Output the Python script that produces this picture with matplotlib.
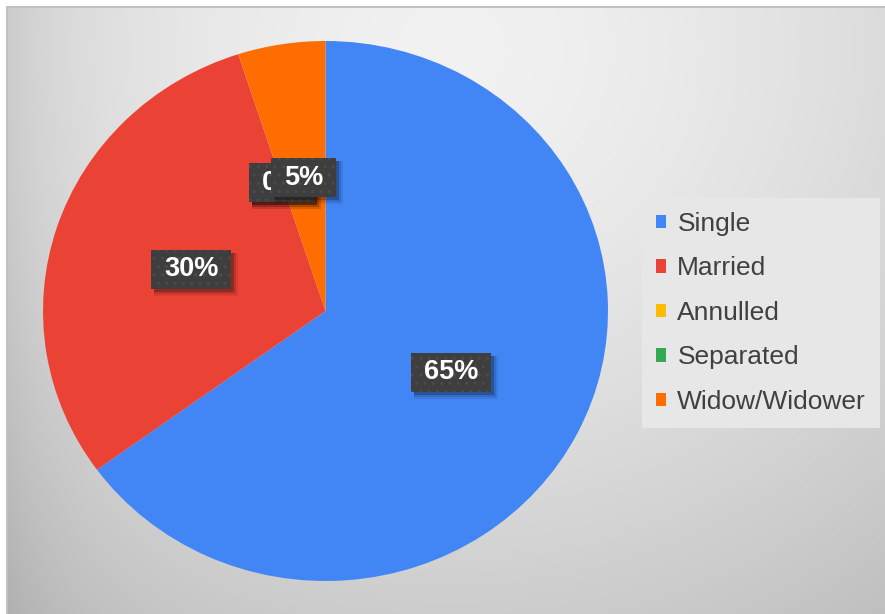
import numpy as np
import matplotlib
matplotlib.use("Agg")
import matplotlib.pyplot as plt
from matplotlib.patches import Patch, Rectangle
from matplotlib.path import Path
from matplotlib.transforms import IdentityTransform

# Marital status breakdown (percent of respondents)
categories = ["Single", "Married", "Annulled", "Separated", "Widow/Widower"]
values = [65, 30, 0, 0, 5]
colors = ["#4285F4", "#EA4335", "#FBBC04", "#34A853", "#FF6D01"]

W, H = 885, 614
DPI = 100
plt.rcParams["font.family"] = ["Liberation Sans", "DejaVu Sans"]

fig = plt.figure(figsize=(W / DPI, H / DPI), dpi=DPI)

# ---- chart-area background: soft radial gray gradient with thin frame ----
bg = fig.add_axes([0, 0, 1, 1], zorder=-10)
yy, xx = np.mgrid[0:H, 0:W].astype(float)
d = np.sqrt(((xx - 450) / 700.0) ** 2 + ((yy - 50) / 650.0) ** 2)
v = 242 - 46 * np.minimum(d, 1.1) ** 1.5
v -= 15 * np.exp(-(xx - 7) / 60.0)
img = np.repeat((v / 255.0)[:, :, None], 3, axis=2)
img[:6, :, :] = 1.0
img[:, :6, :] = 1.0
img[6:8, 6:, :] = 0.76
img[6:, 6:8, :] = 0.76
bg.imshow(np.clip(img, 0, 1), extent=(0, W, H, 0), aspect="auto", interpolation="bilinear")
bg.set_xlim(0, W)
bg.set_ylim(H, 0)
bg.axis("off")


def label_box(x0, y0, width, height, mutation_size):
    """Rectangle with more horizontal than vertical padding."""
    px, py = 0.47 * mutation_size, 0.25 * mutation_size
    x1, y1 = x0 + width + px, y0 + height + py
    x0, y0 = x0 - px, y0 - py
    return Path([(x0, y0), (x1, y0), (x1, y1), (x0, y1), (x0, y0)], closed=True)


# ---- pie ----
left, right, top, bottom = 43, 608, 41, 581
ax = fig.add_axes([left / W, 1 - bottom / H, (right - left) / W, (bottom - top) / H])
wedges, texts, autotexts = ax.pie(
    values,
    colors=colors,
    startangle=90,
    counterclock=False,
    radius=1.0,
    pctdistance=0.5,
    autopct=lambda p: f"{p:.0f}%",
    wedgeprops=dict(linewidth=0, antialiased=True),
    textprops=dict(color="white", fontsize=19.5, fontweight="bold"),
)
ax.set_aspect("auto")
ax.set_xlim(-1, 1)
ax.set_ylim(-1, 1)

for i, t in enumerate(autotexts):
    t.set_bbox(dict(boxstyle=label_box, facecolor="#3e3e3e",
                    edgecolor="#4b4b4b", linewidth=0, hatch=".."))
    t.set_zorder(10 + 2 * i)

# soft drop shadow under each label box, placed from the rendered box extents
fig.canvas.draw()
renderer = fig.canvas.get_renderer()
for i, t in enumerate(autotexts):
    ext = t.get_bbox_patch().get_window_extent(renderer)
    for off, grow, a in [(5, 2, 0.08), (4, 1, 0.12), (3, 0, 0.22)]:
        ax.add_patch(Rectangle((ext.x0 + off - grow, ext.y0 - off - grow),
                               ext.width + 2 * grow, ext.height + 2 * grow,
                               transform=IdentityTransform(), facecolor="black",
                               edgecolor="none", alpha=a, zorder=9 + 2 * i))

# ---- legend ----
handles = [Patch(facecolor=c, edgecolor="none") for c in colors]
leg = fig.legend(
    handles, categories,
    loc="upper left",
    bbox_to_anchor=(642 / W, 1 - 198 / H),
    bbox_transform=fig.transFigure,
    frameon=True, fancybox=False,
    facecolor="#e7e7e7", edgecolor="none", framealpha=1,
    fontsize=19, labelcolor="#404040",
    handlelength=0.4, handleheight=0.4, handletextpad=0.42,
    labelspacing=0.78, borderpad=0.52, borderaxespad=0,
)

fig.savefig("out.png", dpi=DPI)
